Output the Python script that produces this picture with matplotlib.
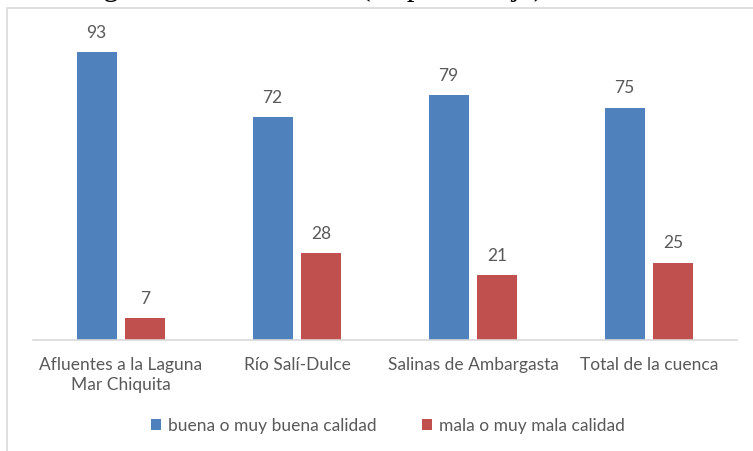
import matplotlib.pyplot as plt
from matplotlib.patches import Rectangle
import numpy as np

# datos
categorias = ['Afluentes a la Laguna\nMar Chiquita', 'Río Salí-Dulce',
              'Salinas de Ambargasta', 'Total de la cuenca']
buena = [93, 72, 79, 75]
mala = [7, 28, 21, 25]
series = ['buena o muy buena calidad', 'mala o muy mala calidad']

azul = '#4f81bd'
rojo = '#c0504d'
gris = '#595959'

plt.rcParams['font.family'] = ['Lato', 'DejaVu Sans']

fig = plt.figure(figsize=(7.53, 4.51), dpi=100)

# marco del grafico
fig.patches.append(Rectangle((7 / 753, -0.1), 1.0, (451 - 8) / 451 + 0.1,
                             transform=fig.transFigure, fill=False,
                             edgecolor='#d9d9d9', linewidth=1.2))

# titulo de la figura, cortado arriba (solo se ven los descendentes)
fig.text(78 / 753, 1 + 5 / 451, 'Figura 4. Calidad total (en porcentaje)',
         family='Liberation Serif', fontsize=22, va='baseline', ha='left')

ax = fig.add_axes([33 / 753, (451 - 340) / 451, 704 / 753, 310 / 451])

x = np.arange(len(categorias))
w = 0.227
off = 0.139
b1 = ax.bar(x - off, buena, w, color=azul, label=series[0])
b2 = ax.bar(x + off, mala, w, color=rojo, label=series[1])

for barras in (b1, b2):
    for b in barras:
        ax.annotate(str(int(b.get_height())),
                    (b.get_x() + b.get_width() / 2, b.get_height()),
                    xytext=(0, 8), textcoords='offset points',
                    ha='center', va='bottom', fontsize=12.5, color=gris)

ax.set_xlim(-0.5, 3.5)
ax.set_ylim(0, 100)
ax.set_yticks([])
ax.set_xticks(x)
ax.set_xticklabels(categorias, fontsize=12.5, color=gris, linespacing=1.3)
ax.tick_params(axis='x', length=0, pad=12)
for s in ['top', 'right', 'left']:
    ax.spines[s].set_visible(False)
ax.spines['bottom'].set_color('#d9d9d9')
ax.spines['bottom'].set_linewidth(1.2)

fig.legend(handles=[b1, b2], labels=series, loc='center',
           bbox_to_anchor=(388 / 753, 1 - 426 / 451), ncol=2, frameon=False,
           fontsize=12.5, labelcolor=gris, handlelength=0.6, handleheight=0.6,
           handletextpad=0.4, columnspacing=2.6)

fig.savefig('out.png', dpi=100)
